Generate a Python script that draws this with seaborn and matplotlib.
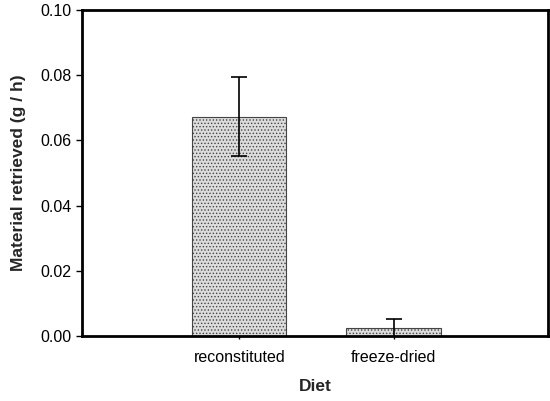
import matplotlib
matplotlib.use("Agg")
import matplotlib.pyplot as plt
import seaborn as sns
import pandas as pd
import numpy as np

# data
diet = ["reconstituted", "freeze-dried"]
retrieved = [0.0673, 0.0025]
err = [0.0122, 0.0027]

df = pd.DataFrame({"Diet": diet, "Material": retrieved})

sns.set_style("ticks")
plt.rcParams['font.family'] = ['Liberation Sans', 'DejaVu Sans']
plt.rcParams['hatch.color'] = '#8a8a8a'
plt.rcParams['hatch.linewidth'] = 0.6

fig = plt.figure(figsize=(5.5, 4.01), dpi=100)
ax = fig.add_axes([0.149, 0.162, 0.847, 0.813])

sns.barplot(data=df, x="Diet", y="Material", errorbar=None, width=0.61,
            color="#dcdcdc", edgecolor="#444444", linewidth=0.8, ax=ax)
for p in ax.patches:
    p.set_hatch(".....")

ax.errorbar(np.arange(len(diet)), retrieved, yerr=err, fmt="none",
            ecolor="black", elinewidth=1.2, capsize=6, capthick=1.2, zorder=5)

ax.set_xlim(-1.02, 2.0)
ax.set_ylim(0, 0.10)
ax.set_yticks(np.arange(0, 0.101, 0.02))
ax.set_yticklabels([f"{v:.2f}" for v in np.arange(0, 0.101, 0.02)])
ax.tick_params(axis="both", labelsize=11.5, length=4, width=1, colors="black")
ax.tick_params(axis="x", length=4, direction="inout", pad=8)

ax.set_xlabel("Diet", fontsize=12.5, fontweight="bold", labelpad=10)
ax.set_ylabel("Material retrieved (g / h)", fontsize=12.5, fontweight="bold", labelpad=10)

for s in ax.spines.values():
    s.set_visible(True)
    s.set_linewidth(2)
    s.set_color("black")

fig.savefig("out.png", dpi=100)
